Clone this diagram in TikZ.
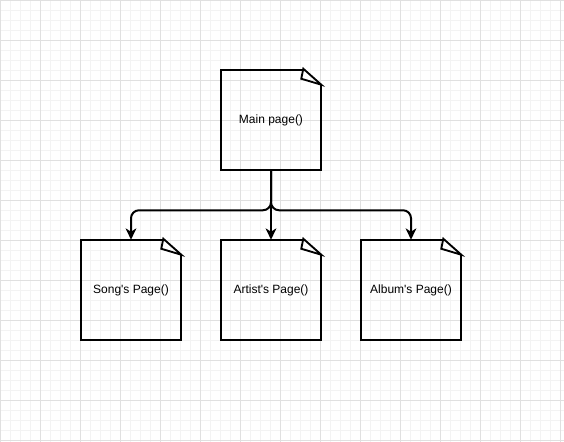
\documentclass[tikz,border=0pt]{standalone}
\usepackage{fontspec}
\setmainfont{Liberation Sans}
\newfontfamily\labelfont{Liberation Sans}
\usetikzlibrary{arrows.meta}
\definecolor{gridminor}{HTML}{F3F3F3}
\definecolor{gridmajor}{HTML}{E0E0E0}
\tikzset{
  notebox/.style={minimum width=75pt, minimum height=75pt, inner sep=0pt, font=\labelfont\fontsize{9pt}{10.5pt}\selectfont},
  link/.style={line width=1.5pt, rounded corners=6pt, -{Stealth[length=8.5pt,width=8pt,inset=2.5pt]}},
}
\newcommand{\foldnote}[1]{%
  \draw[line width=1.5pt, line join=miter]
    ([xshift=-12.75pt]#1.north east) -- (#1.north west) -- (#1.south west) -- (#1.south east) -- ([yshift=-11.25pt]#1.north east);
  \draw[line width=1.4pt, line join=miter]
    ([xshift=-13.5pt,yshift=0.75pt]#1.north east) -- ([yshift=-11.25pt]#1.north east) -- ([xshift=-15pt,yshift=-6.75pt]#1.north east) -- cycle;
}
\begin{document}
\begin{tikzpicture}[x=0.75pt,y=-0.75pt]
\fill[white] (0,0) rectangle (564,442);
\useasboundingbox (0,0) rectangle (564,442);
\draw[step=7.5pt, color=gridminor, line width=0.5pt, shift={(0.5,0)}] (0,0) grid (564,442);
\draw[step=30pt, color=gridmajor, line width=0.6pt, shift={(0.5,0)}] (0,0) grid (564,442);
\node[notebox] (main) at (271,120) {Main page()};
\node[notebox] (song) at (131,290) {Song's Page()};
\node[notebox] (artist) at (271,290) {Artist's Page()};
\node[notebox] (album) at (411,290) {Album's Page()};
\foldnote{main}
\foldnote{song}
\foldnote{artist}
\foldnote{album}
\draw[link] (main.south) -- ++(0,40) -| (song.north);
\draw[link] (main.south) -- (artist.north);
\draw[link] (main.south) -- ++(0,40) -| (album.north);
\end{tikzpicture}
\end{document}
